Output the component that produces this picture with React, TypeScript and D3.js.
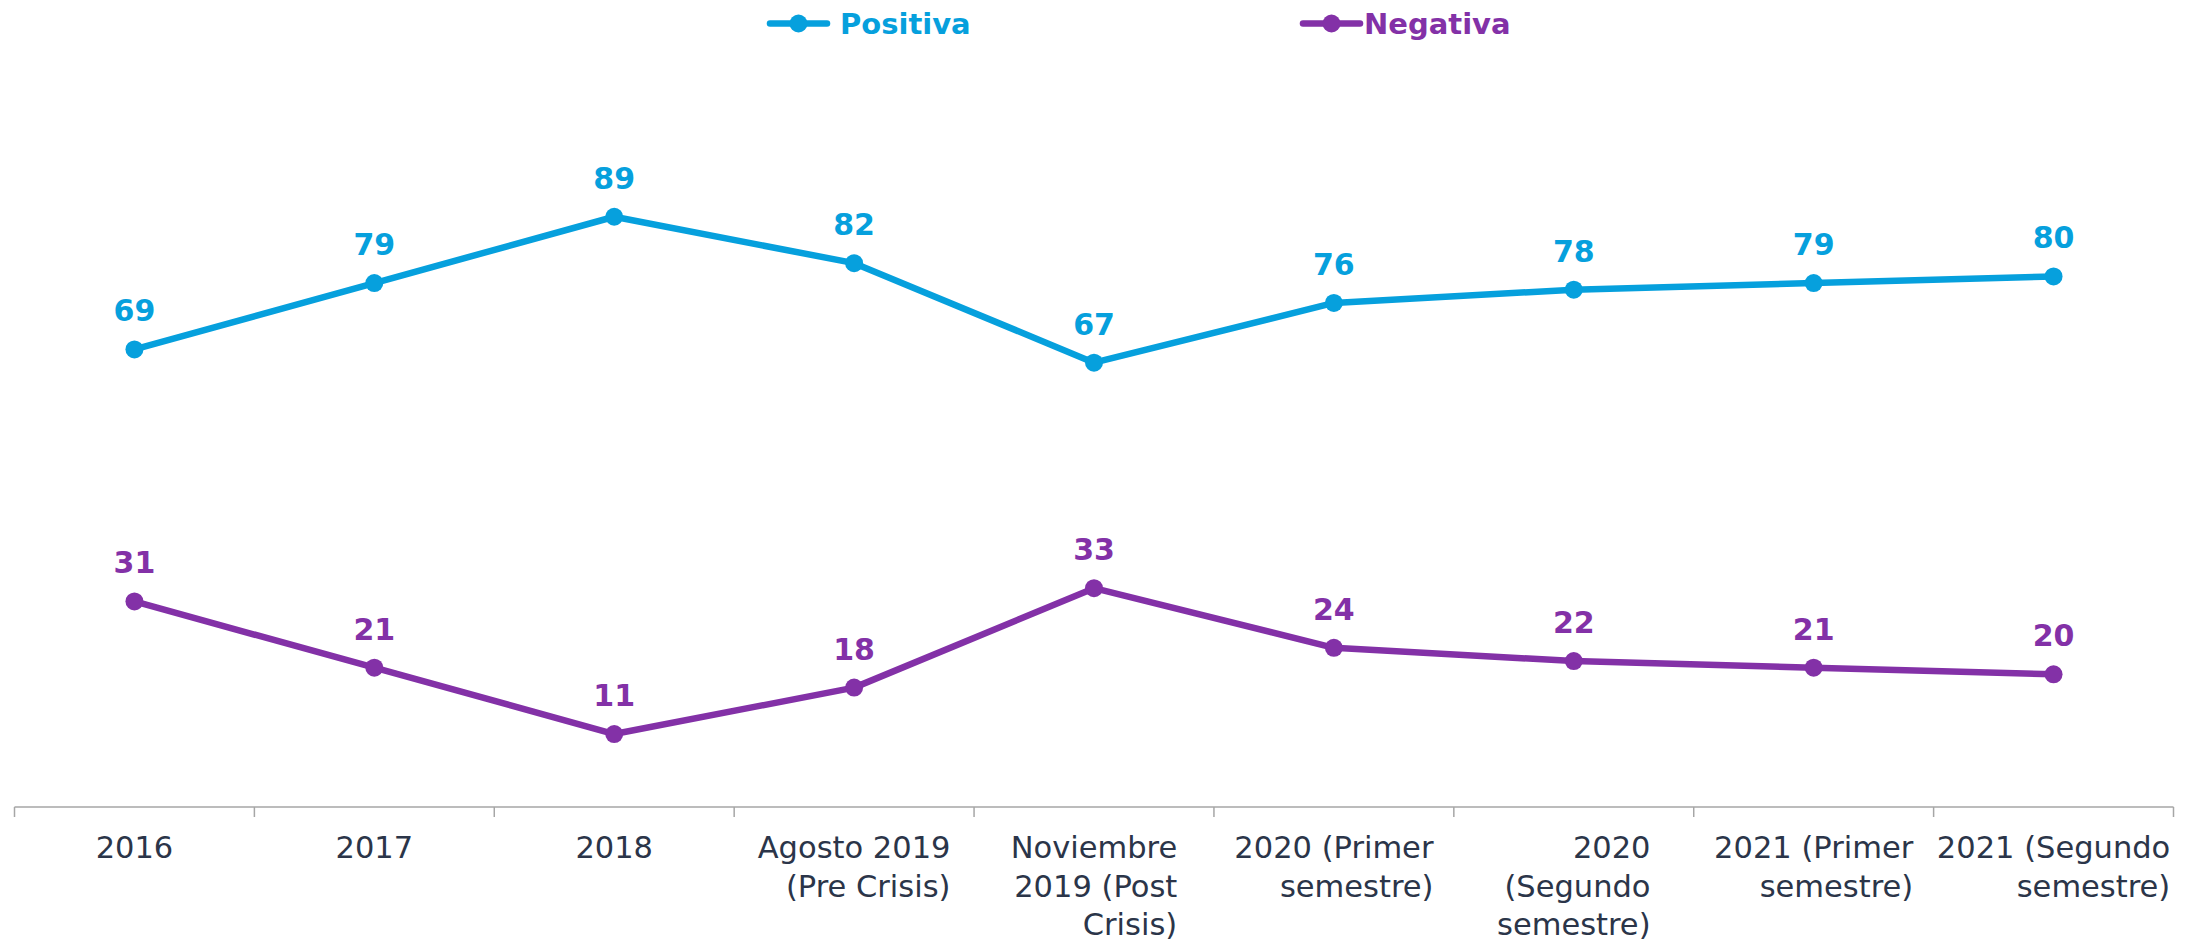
import React, { useEffect, useRef } from "react";
import * as d3 from "d3";

const categories: string[] = [
  "2016",
  "2017",
  "2018",
  "Agosto 2019\n(Pre Crisis)",
  "Noviembre\n2019 (Post\nCrisis)",
  "2020 (Primer\nsemestre)",
  "2020\n(Segundo\nsemestre)",
  "2021 (Primer\nsemestre)",
  "2021 (Segundo\nsemestre)",
];
const positiva: number[] = [69, 79, 89, 82, 67, 76, 78, 79, 80];
const negativa: number[] = [31, 21, 11, 18, 33, 24, 22, 21, 20];
const seriesNames: string[] = ["Positiva", "Negativa"];
const seriesColors: string[] = ["#06a0dd", "#8331a7"];

const W = 2200;
const H = 944;

export default function App() {
  const ref = useRef<SVGSVGElement | null>(null);

  useEffect(() => {
    const svg = d3.select(ref.current);
    svg.selectAll("*").remove();

    const x = d3
      .scaleBand<number>()
      .domain(categories.map((_, i) => i))
      .range([14.5, 2173.5]);
    const y = d3.scaleLinear().domain([0, 100]).range([807, 143.8]);

    // axis
    const axisG = svg.append("g");
    axisG
      .append("line")
      .attr("x1", x.range()[0])
      .attr("x2", x.range()[1])
      .attr("y1", y(0))
      .attr("y2", y(0))
      .attr("stroke", "#a6a6a6")
      .attr("stroke-width", 1.5);
    const bounds = categories.map((_, i) => x(i)!).concat([x.range()[1]]);
    axisG
      .selectAll("line.tick")
      .data(bounds)
      .enter()
      .append("line")
      .attr("class", "tick")
      .attr("x1", (d) => d)
      .attr("x2", (d) => d)
      .attr("y1", y(0))
      .attr("y2", y(0) + 10)
      .attr("stroke", "#a6a6a6")
      .attr("stroke-width", 1.5);

    // category labels: block centered, lines right-aligned
    categories.forEach((c, i) => {
      const lines = c.split("\n");
      const g = axisG.append("g");
      const texts = lines.map((ln, k) =>
        g
          .append("text")
          .attr("y", 858 + k * 38.5)
          .attr("text-anchor", "end")
          .attr("font-family", "'DejaVu Sans', sans-serif")
          .attr("font-size", 30.5)
          .attr("fill", "#2b3549")
          .text(ln)
      );
      const maxW = d3.max(texts, (t) => (t.node() as SVGTextElement).getComputedTextLength()) || 0;
      const cx = x(i)! + x.bandwidth() / 2;
      texts.forEach((t) => t.attr("x", cx + maxW / 2));
    });

    const line = d3
      .line<number>()
      .x((_, i) => x(i)! + x.bandwidth() / 2)
      .y((d) => y(d));

    [positiva, negativa].forEach((vals, si) => {
      const col = seriesColors[si];
      const g = svg.append("g");
      g.append("path")
        .attr("d", line(vals)!)
        .attr("fill", "none")
        .attr("stroke", col)
        .attr("stroke-width", 6.5)
        .attr("stroke-linejoin", "round")
        .attr("stroke-linecap", "round");
      g.selectAll("circle")
        .data(vals)
        .enter()
        .append("circle")
        .attr("cx", (_, i) => x(i)! + x.bandwidth() / 2)
        .attr("cy", (d) => y(d))
        .attr("r", 9)
        .attr("fill", col);
      g.selectAll("text")
        .data(vals)
        .enter()
        .append("text")
        .attr("x", (_, i) => x(i)! + x.bandwidth() / 2)
        .attr("y", (d) => y(d) - 28)
        .attr("text-anchor", "middle")
        .attr("font-family", "'DejaVu Sans', sans-serif")
        .attr("font-weight", "bold")
        .attr("font-size", 30)
        .attr("fill", col)
        .text((d) => String(d));
    });

    // legend
    const legendLineX = [770, 1303];
    const legendTextX = [840, 1364];
    seriesNames.forEach((name, si) => {
      const col = seriesColors[si];
      const lx = legendLineX[si];
      const g = svg.append("g");
      g.append("line")
        .attr("x1", lx)
        .attr("x2", lx + 57)
        .attr("y1", 23.5)
        .attr("y2", 23.5)
        .attr("stroke", col)
        .attr("stroke-width", 6.5)
        .attr("stroke-linecap", "round");
      g.append("circle").attr("cx", lx + 28.5).attr("cy", 23.5).attr("r", 9).attr("fill", col);
      g.append("text")
        .attr("x", legendTextX[si])
        .attr("y", 33.5)
        .attr("font-family", "'DejaVu Sans', sans-serif")
        .attr("font-weight", "bold")
        .attr("font-size", 29)
        .attr("fill", col)
        .text(name);
    });
  }, []);

  return (
    <svg
      ref={ref}
      width={W}
      height={H}
      style={{ position: "absolute", left: 0, top: 0, background: "#ffffff" }}
    />
  );
}
